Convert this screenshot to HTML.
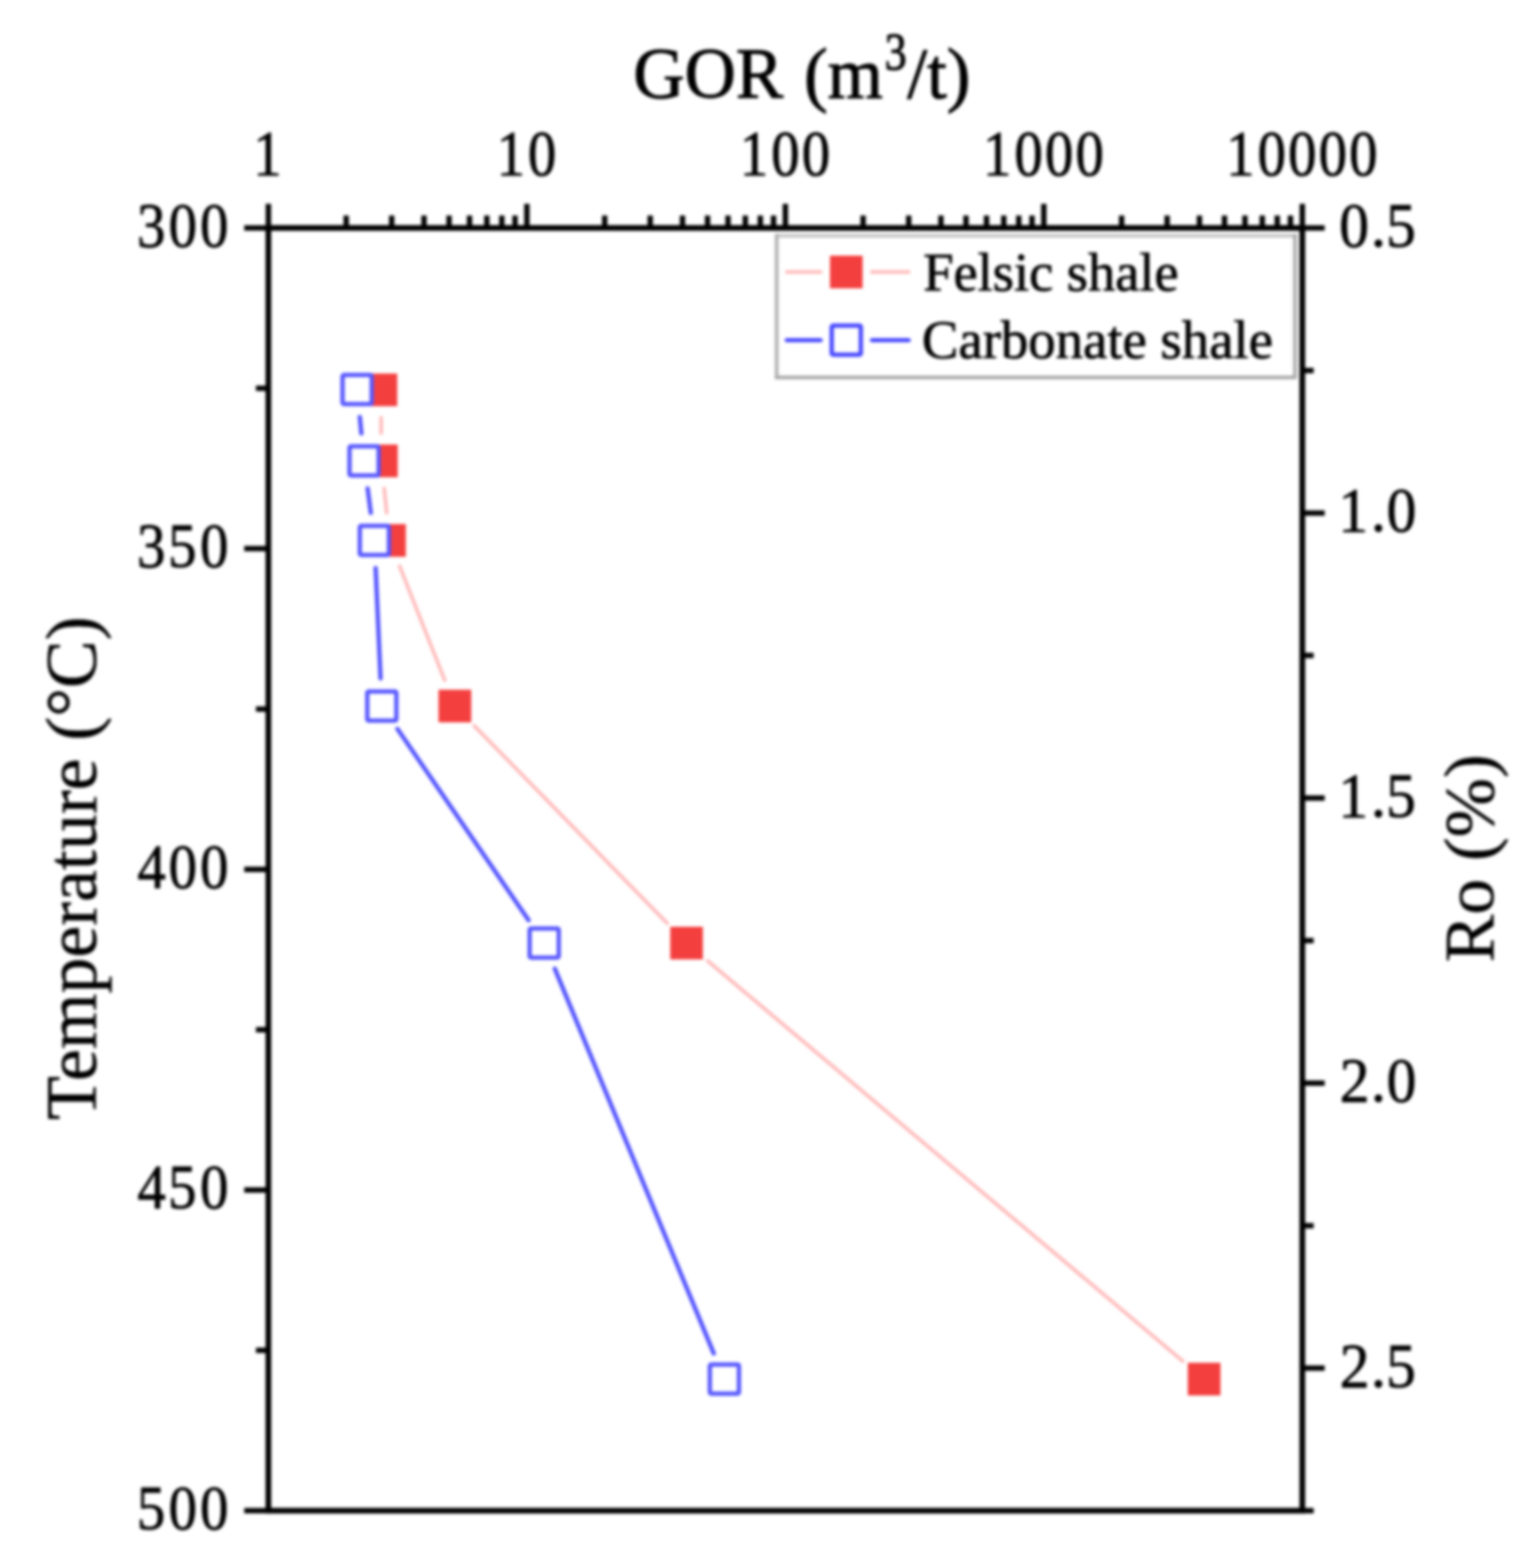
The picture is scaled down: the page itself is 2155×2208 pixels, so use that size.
<!DOCTYPE html>
<html><head><meta charset="utf-8"><title>GOR vs Temperature</title>
<style>html,body{margin:0;padding:0;background:#fff;}body{width:2155px;height:2208px;overflow:hidden;}svg{display:block;filter:blur(2.0px);}</style>
</head><body><svg width="2155" height="2208" viewBox="0 0 2155 2208"><rect x="378" y="321" width="1456.3" height="1806.3000000000002" fill="none" stroke="#000" stroke-width="8"/><path d="M378.0 321.0L378.0 287.0M487.6 321.0L487.6 303.5M551.7 321.0L551.7 303.5M597.2 321.0L597.2 303.5M632.5 321.0L632.5 303.5M661.3 321.0L661.3 303.5M685.7 321.0L685.7 303.5M706.8 321.0L706.8 303.5M725.4 321.0L725.4 303.5M742.1 321.0L742.1 287.0M851.7 321.0L851.7 303.5M915.8 321.0L915.8 303.5M961.3 321.0L961.3 303.5M996.6 321.0L996.6 303.5M1025.4 321.0L1025.4 303.5M1049.8 321.0L1049.8 303.5M1070.9 321.0L1070.9 303.5M1089.5 321.0L1089.5 303.5M1106.2 321.0L1106.2 287.0M1215.7 321.0L1215.7 303.5M1279.9 321.0L1279.9 303.5M1325.3 321.0L1325.3 303.5M1360.6 321.0L1360.6 303.5M1389.5 321.0L1389.5 303.5M1413.8 321.0L1413.8 303.5M1434.9 321.0L1434.9 303.5M1453.6 321.0L1453.6 303.5M1470.2 321.0L1470.2 287.0M1579.8 321.0L1579.8 303.5M1643.9 321.0L1643.9 303.5M1689.4 321.0L1689.4 303.5M1724.7 321.0L1724.7 303.5M1753.5 321.0L1753.5 303.5M1777.9 321.0L1777.9 303.5M1799.0 321.0L1799.0 303.5M1817.6 321.0L1817.6 303.5M1834.3 321.0L1834.3 287.0M378.0 321.0L344.0 321.0M378.0 546.8L360.5 546.8M378.0 772.6L344.0 772.6M378.0 998.4L360.5 998.4M378.0 1224.2L344.0 1224.2M378.0 1449.9L360.5 1449.9M378.0 1675.7L344.0 1675.7M378.0 1901.5L360.5 1901.5M378.0 2127.3L344.0 2127.3M1834.3 321.0L1865.8 321.0M1834.3 521.7L1850.3 521.7M1834.3 722.4L1865.8 722.4M1834.3 923.1L1850.3 923.1M1834.3 1123.8L1865.8 1123.8M1834.3 1324.5L1850.3 1324.5M1834.3 1525.2L1865.8 1525.2M1834.3 1725.9L1850.3 1725.9M1834.3 1926.6L1865.8 1926.6M1834.3 2127.3L1850.3 2127.3" stroke="#000" stroke-width="7.5" fill="none"/><path d="M536.8 588.0L536.9 610.0M541.1 687.8L544.7 722.2M562.9 797.3L626.4 957.9M668.0 1022.1L939.7 1300.1M996.8 1353.1L1666.2 1916.9" stroke="#ffbaba" stroke-width="5" stroke-linecap="round" fill="none"/><path d="M506.8 587.3L509.0 610.2M517.8 687.7L522.3 722.3M529.1 800.0L536.0 955.2M559.8 1026.4L744.5 1295.8M781.4 1364.0L1005.4 1906.0" stroke="#5050ff" stroke-width="6" stroke-linecap="round" fill="none"/><rect x="513.5" y="526.0" width="46" height="46" fill="#f43f3f"/><rect x="514.2" y="626.0" width="46" height="46" fill="#f43f3f"/><rect x="525.6" y="738.0" width="46" height="46" fill="#f43f3f"/><rect x="617.7" y="971.2" width="46" height="46" fill="#f43f3f"/><rect x="944.0" y="1305.0" width="46" height="46" fill="#f43f3f"/><rect x="1673.0" y="1919.0" width="46" height="46" fill="#f43f3f"/><rect x="482.5" y="528.0" width="41" height="41" rx="2" fill="#fff" stroke="#5555ff" stroke-width="6"/><rect x="492.3" y="628.5" width="41" height="41" rx="2" fill="#fff" stroke="#5555ff" stroke-width="6"/><rect x="506.8" y="740.5" width="41" height="41" rx="2" fill="#fff" stroke="#5555ff" stroke-width="6"/><rect x="517.3" y="973.7" width="41" height="41" rx="2" fill="#fff" stroke="#5555ff" stroke-width="6"/><rect x="746.0" y="1307.5" width="41" height="41" rx="2" fill="#fff" stroke="#5555ff" stroke-width="6"/><rect x="999.8" y="1921.5" width="41" height="41" rx="2" fill="#fff" stroke="#5555ff" stroke-width="6"/><rect x="1094" y="332" width="730" height="199.5" fill="#fff"/><path d="M1091.5 332H1826.5" stroke="#c4c4c4" stroke-width="5"/><path d="M1094 329.5V534" stroke="#b0b0b0" stroke-width="5"/><path d="M1824 329.5V534M1091.5 531.5H1826.5" stroke="#a8a8a8" stroke-width="5"/><path d="M1108 383H1156M1228 383H1280" stroke="#ffbaba" stroke-width="5" stroke-linecap="round"/><rect x="1169.0" y="360.0" width="46" height="46" fill="#f43f3f"/><path d="M1108 479H1156M1228 479H1280" stroke="#3c3cff" stroke-width="5.5" stroke-linecap="round"/><rect x="1171.5" y="458.5" width="41" height="41" rx="2" fill="#fff" stroke="#4646ff" stroke-width="6"/><g font-family="'Liberation Serif', 'Times New Roman', serif" fill="#000" stroke="#000" stroke-width="1.0"><text x="356.8" y="0" transform="translate(0,246.8) scale(1,1.126)" font-size="80">1</text><text x="699.4 743.6" y="0" transform="translate(0,246.8) scale(1,1.126)" font-size="80">10</text><text x="1042.0 1086.2 1129.2" y="0" transform="translate(0,246.8) scale(1,1.126)" font-size="80">100</text><text x="1384.5 1428.7 1471.7 1514.7" y="0" transform="translate(0,246.8) scale(1,1.126)" font-size="80">1000</text><text x="1727.1 1771.3 1814.3 1857.3 1900.3" y="0" transform="translate(0,246.8) scale(1,1.126)" font-size="80">10000</text><text x="193.1 237.6 281.7" y="0" transform="translate(0,346.7) scale(1,1.115)" font-size="80">300</text><text x="193.1 236.8 281.7" y="0" transform="translate(0,798.3) scale(1,1.115)" font-size="80">350</text><text x="193.5 237.6 281.7" y="0" transform="translate(0,1249.9) scale(1,1.115)" font-size="80">400</text><text x="193.5 236.8 281.7" y="0" transform="translate(0,1701.4) scale(1,1.115)" font-size="80">450</text><text x="192.7 237.6 281.7" y="0" transform="translate(0,2153.0) scale(1,1.115)" font-size="80">500</text><text x="1886.3 1930.9 1952.3" y="0" transform="translate(0,347.0) scale(1,1.049)" font-size="84">0.5</text><text x="1885.0 1930.9 1953.1" y="0" transform="translate(0,748.4) scale(1,1.049)" font-size="84">1.0</text><text x="1885.0 1930.9 1952.3" y="0" transform="translate(0,1149.8) scale(1,1.049)" font-size="84">1.5</text><text x="1887.1 1930.9 1953.1" y="0" transform="translate(0,1551.2) scale(1,1.049)" font-size="84">2.0</text><text x="1887.1 1930.9 1952.3" y="0" transform="translate(0,1952.6) scale(1,1.049)" font-size="84">2.5</text><text transform="translate(892.0,137.5) scale(1,1.020)" font-size="100" stroke-width="1.4">GOR</text><text transform="translate(1132.5,137.5) scale(1,1.020)" font-size="100" stroke-width="1.4">(m</text><text transform="translate(1246.0,97.5) scale(1,1.190)" font-size="62" stroke-width="1.2">3</text><text transform="translate(1278.0,137.5) scale(1,1.020)" font-size="100" stroke-width="1.4">/t)</text><text transform="translate(135.0,1577.0) rotate(-90)" font-size="101" stroke-width="0.6">Temperature (°C)</text><text transform="translate(2103.0,1355.0) rotate(-90)" font-size="100.5" stroke-width="0.6">Ro (%)</text><text transform="translate(1300.5,409.0)" font-size="76.6">Felsic shale</text><text transform="translate(1298.5,504.0)" font-size="77.1">Carbonate shale</text></g></svg></body></html>
